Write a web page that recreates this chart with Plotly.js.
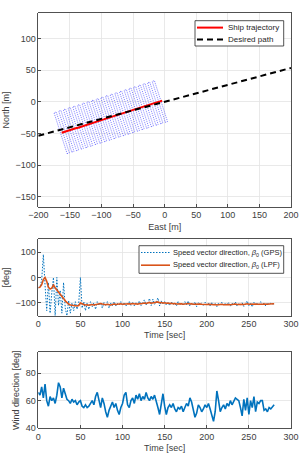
<!DOCTYPE html>
<html>
<head>
<meta charset="utf-8">
<script src="https://cdn.plot.ly/plotly-3.0.1.min.js"></script>
<style>
  html, body { margin: 0; padding: 0; background: #ffffff; }
  #chart { width: 299px; height: 464px; }
</style>
</head>
<body>
<div id="chart"></div>
<script>
// Ship positions along the run (East / North, metres)
const posEast = [-163.0, -159.3, -155.6, -151.9, -148.2, -144.5, -140.8, -137.1, -133.4, -129.7,
                 -126.0, -122.3, -118.6, -114.9, -111.2, -107.5, -103.8, -100.1, -96.4, -92.7,
                 -89.0, -85.3, -81.6, -77.9, -74.2, -70.5, -66.8, -63.1, -59.4, -55.7,
                 -52.0, -48.3, -44.6, -40.9, -37.2, -33.5, -29.8, -26.1, -22.4, -18.7,
                 -15.0, -11.3, -7.6, -3.9];
const posNorth = [-49.0, -47.6, -46.5, -45.6, -44.3, -43.2, -41.8, -40.9, -39.6, -38.2,
                  -37.3, -36.2, -34.6, -33.7, -32.5, -31.0, -30.1, -28.9, -27.8, -26.5,
                  -25.3, -24.2, -22.9, -21.8, -20.6, -19.4, -18.3, -17.0, -15.9, -14.6,
                  -13.5, -12.3, -11.0, -9.9, -8.8, -7.5, -6.3, -5.2, -4.0, -2.8,
                  -1.7, -0.5, 0.6, 2.0];

// Desired straight-line path
const desiredEast = [-200, 200];
const desiredNorth = [-53.6, 53.6];

// Hull footprint (metres): half length across track, half beam along track
const hullHalfSpan = 34;
const hullHalfBeam = 1.85;

// Time series sampled every 2 s, starting at t = 0
const sampleStart = 0;
const sampleStep = 2;

const betaGPS = [
  -40, -38, -10, 90, -30, -130, -20, -140, -60, 0,
  -150, 0, -110, -50, -140, -20, -120, -150, -90, -140,
  -100, -130, -95, -125, -100, 0, -120, -95, -130, -100,
  -125, -95, -115, -100, -125, -95, -110, -100, -120, -98,
  -112, -95, -120, -100, -110, -95, -112, -102, -108, -95,
  -110, -98, -112, -100, -94, -110, -96, -112, -98, -105,
  -92, -110, -98, -88, -108, -100, -82, -110, -85, -105,
  -96, -80, -112, -92, -104, -95, -108, -98, -110, -96,
  -106, -100, -112, -94, -108, -100, -110, -95, -107, -92,
  -112, -100, -108, -96, -115, -98, -106, -100, -112, -97,
  -108, -100, -112, -98, -106, -102, -114, -100, -107, -97,
  -110, -100, -108, -98, -113, -101, -107, -96, -112, -103,
  -108, -99, -114, -102, -92, -110, -100, -115, -98, -106,
  -100, -110, -95, -108, -100, -112, -99, -107, -101, -104,
  -103
];

const betaLPF = [
  -40, -38, -28, -8, 0, -15, -38, -45, -42, -30,
  -40, -48, -55, -65, -75, -82, -92, -100, -104, -108,
  -110, -112, -111, -112, -110, -100, -104, -106, -108, -107,
  -109, -107, -106, -108, -107, -104, -105, -102, -104, -106,
  -107, -105, -106, -108, -106, -104, -106, -105, -104, -103,
  -105, -104, -106, -105, -103, -104, -102, -104, -103, -105,
  -102, -103, -101, -100, -102, -100, -98, -101, -99, -100,
  -98, -96, -99, -98, -100, -99, -101, -100, -102, -101,
  -103, -102, -104, -103, -104, -103, -105, -104, -103, -102,
  -104, -103, -105, -104, -106, -105, -104, -105, -106, -105,
  -106, -105, -107, -106, -107, -106, -108, -107, -106, -105,
  -107, -106, -105, -106, -107, -106, -105, -104, -106, -105,
  -104, -105, -106, -104, -103, -105, -104, -106, -105, -104,
  -105, -106, -104, -105, -104, -106, -105, -104, -104, -103,
  -103
];

const windDir = [
  66, 64, 70, 62, 72, 60, 56, 63, 60, 62,
  58, 64, 73, 70, 62, 69, 65, 61, 60, 58,
  61, 59, 60, 57, 59, 60, 56, 55, 57, 55,
  56, 58, 60, 57, 63, 66, 60, 55, 62, 58,
  52, 48, 53, 56, 59, 55, 58, 53, 50, 55,
  58, 64, 66, 57, 55, 60, 62, 58, 64, 61,
  65, 60, 63, 61, 66, 62, 60, 63, 61, 64,
  60, 55, 50, 58, 65, 56, 50, 55, 57, 55,
  58, 54, 52, 55, 54, 56, 52, 55, 58, 56,
  62, 59, 52, 48, 51, 57, 55, 52, 54, 57,
  55, 58, 54, 50, 45, 52, 67, 60, 52, 55,
  57, 54, 58, 56, 60, 57, 59, 62, 61, 60,
  55, 49, 61, 53, 62, 50, 60, 55, 63, 52,
  59, 58, 60, 60, 53, 54, 52, 55, 54, 56,
  57
];

// Legend labels
const labelTrajectory = 'Ship trajectory';
const labelDesired = 'Desired path';
const labelGPS = 'Speed vector direction, <i>β</i><sub>0</sub> (GPS)';
const labelLPF = 'Speed vector direction, <i>β</i><sub>0</sub> (LPF)';

// Line styles
const styleHull = { color: 'rgba(10,10,255,0.75)', width: 0.7, dash: '1px,1px' };
const styleTrajectory = { color: '#ff0000', width: 2 };
const styleDesired = { color: '#000000', width: 2, dash: '6px,4px' };
const styleGPS = { color: '#0072BD', width: 1, dash: '1.5px,1.5px' };
const styleLPF = { color: '#D95319', width: 1.6 };
const styleWind = { color: '#0072BD', width: 1.6 };

// Hull outlines swept along the track, oriented across the overall course
const last = posEast.length - 1;
const course = Math.atan2(posNorth[last] - posNorth[0], posEast[last] - posEast[0]);
const ux = Math.cos(course), uy = Math.sin(course);
const vx = -Math.sin(course), vy = Math.cos(course);
const hullX = [], hullY = [];
for (let i = 0; i < posEast.length; i += 2) {
  const cx = posEast[i], cy = posNorth[i];
  const corners = [[-1, -1], [1, -1], [1, 1], [-1, 1], [-1, -1]];
  corners.forEach(([a, b]) => {
    hullX.push(cx + a * hullHalfBeam * ux + b * hullHalfSpan * vx);
    hullY.push(cy + a * hullHalfBeam * uy + b * hullHalfSpan * vy);
  });
  hullX.push(null); hullY.push(null);
}

const FONT = 'Liberation Sans, Arial, Helvetica, sans-serif';
const AX = '#262626';
const TXT = '#404040';
const GRID = '#e3e3e3';

const traces = [
  { x: hullX, y: hullY, type: 'scatter', mode: 'lines', line: styleHull,
    hoverinfo: 'skip', xaxis: 'x', yaxis: 'y' },
  { x: posEast, y: posNorth, type: 'scatter', mode: 'lines', name: labelTrajectory,
    line: styleTrajectory, xaxis: 'x', yaxis: 'y' },
  { x: desiredEast, y: desiredNorth, type: 'scatter', mode: 'lines', name: labelDesired,
    line: styleDesired, xaxis: 'x', yaxis: 'y' },
  { y: betaGPS, x0: sampleStart, dx: sampleStep, type: 'scatter', mode: 'lines', name: 'GPS',
    line: styleGPS, xaxis: 'x2', yaxis: 'y2' },
  { y: betaLPF, x0: sampleStart, dx: sampleStep, type: 'scatter', mode: 'lines', name: 'LPF',
    line: styleLPF, xaxis: 'x2', yaxis: 'y2' },
  { y: windDir, x0: sampleStart, dx: sampleStep, type: 'scatter', mode: 'lines', name: 'Wind',
    line: styleWind, xaxis: 'x3', yaxis: 'y3' }
];

function axis(extra) {
  return Object.assign({
    showline: true, mirror: true, linecolor: AX, linewidth: 0.8,
    ticks: 'inside', ticklen: 3, tickwidth: 0.8, tickcolor: AX,
    showgrid: true, gridcolor: GRID, gridwidth: 0.8, zeroline: false,
    tickfont: { family: FONT, size: 9, color: TXT },
    fixedrange: true
  }, extra);
}
function axTitle(text, standoff) {
  return { text: text, font: { family: FONT, size: 9, color: TXT }, standoff: standoff };
}

const W = 299, H = 464;
const px = x => x / W;
const py = y => 1 - y / H;
const xDom = [px(38.3), px(291)];
const yDom = (top, bottom) => [py(bottom), py(top)];

// Boxed legends drawn in paper space: frame, line sample, label
const shapes = [];
const annotations = [];
function legendBox(left, top, right, bottom, entries, sampleX0, sampleX1, textX, fontSize) {
  shapes.push({ type: 'rect', xref: 'paper', yref: 'paper',
    x0: px(left), x1: px(right), y0: py(bottom), y1: py(top),
    line: { color: AX, width: 0.8 }, fillcolor: '#ffffff', layer: 'above' });
  entries.forEach(e => {
    shapes.push({ type: 'line', xref: 'paper', yref: 'paper',
      x0: px(sampleX0), x1: px(sampleX1), y0: py(e.y), y1: py(e.y),
      line: e.line, layer: 'above' });
    annotations.push({ xref: 'paper', yref: 'paper', x: px(textX), y: py(e.y),
      xanchor: 'left', yanchor: 'middle', showarrow: false, text: e.text,
      font: { family: FONT, size: fontSize, color: AX } });
  });
}
legendBox(195, 20.7, 283.7, 46,
  [{ y: 27.6, text: labelTrajectory, line: styleTrajectory },
   { y: 39.6, text: labelDesired, line: styleDesired }],
  197, 223, 226, 8);
legendBox(139, 245.7, 283.7, 273.3,
  [{ y: 252.5, text: labelGPS, line: styleGPS },
   { y: 265.2, text: labelLPF, line: styleLPF }],
  141, 170, 170.5, 7.5);

const layout = {
  width: W, height: H,
  margin: { l: 0, r: 0, t: 0, b: 0 },
  paper_bgcolor: '#ffffff', plot_bgcolor: '#ffffff',
  font: { family: FONT, size: 9, color: TXT },
  showlegend: false,
  xaxis: axis({ domain: xDom, anchor: 'y', range: [-200, 200], tickvals: [-200, -150, -100, -50, 0, 50, 100, 150, 200],
                title: axTitle('East [m]', 4) }),
  yaxis: axis({ domain: yDom(13.3, 206.8), anchor: 'x', range: [-166, 140], tickvals: [-150, -100, -50, 0, 50, 100],
                title: axTitle('North [m]', 4) }),
  xaxis2: axis({ domain: xDom, anchor: 'y2', range: [0, 300], tickvals: [0, 50, 100, 150, 200, 250, 300],
                 title: axTitle('Time [sec]', 3) }),
  yaxis2: axis({ domain: yDom(239.3, 315.7), anchor: 'x2', range: [-150, 150], tickvals: [-100, 0, 100],
                 title: axTitle('[deg]', 4) }),
  xaxis3: axis({ domain: xDom, anchor: 'y3', range: [0, 300], tickvals: [0, 50, 100, 150, 200, 250, 300],
                 title: axTitle('Time [sec]', 3) }),
  yaxis3: axis({ domain: yDom(352.3, 428.3), anchor: 'x3', range: [40, 95], tickvals: [40, 60, 80],
                 title: axTitle('Wind direction [deg]', 4) }),
  shapes: shapes,
  annotations: annotations
};

Plotly.newPlot('chart', traces, layout, { displayModeBar: false, staticPlot: true });
</script>
</body>
</html>
